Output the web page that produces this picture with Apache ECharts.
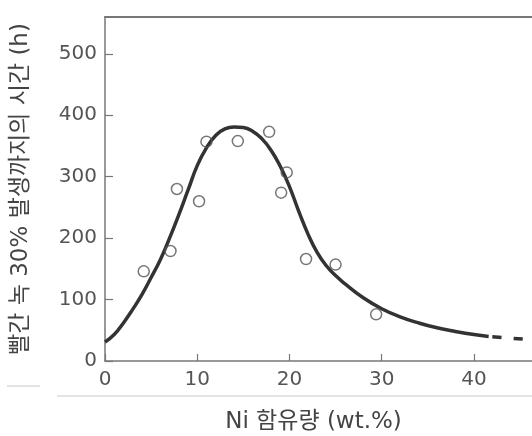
<!DOCTYPE html>
<html><head><meta charset="utf-8">
<script src="https://cdn.jsdelivr.net/npm/echarts/dist/echarts.min.js"></script>
<style>html,body{margin:0;padding:0;background:#fff}#c{width:532px;height:436px}</style>
</head><body><div id="c"></div>
<script>
// Observed points (hollow circles)
const obsX = [4.2, 7.1, 7.8, 10.2, 11.0, 14.4, 17.8, 19.7, 19.1, 21.8, 25.0, 29.4];
const obsY = [146, 179, 280, 260, 357, 358, 373, 307, 274, 166, 157, 76];
// Fitted curve (solid part)
const fitX = [0, 1, 2, 3, 4, 5, 6, 7, 8, 9, 10, 11, 12, 13, 14, 15, 16, 17, 18, 19, 20, 21, 22, 23, 24, 25, 26, 28, 30, 32, 34, 36, 38, 40, 41.6];
const fitY = [31, 43, 62, 84, 108, 136, 165, 200, 238, 278, 318, 347, 367, 378, 381, 380, 374, 362, 343, 317, 284, 244, 207, 177, 155, 139, 126, 103, 85, 72, 62, 54, 48, 43, 40];
// Extrapolated (dashed) part
const extX = [41.6, 44, 46.3];
const extY = [40, 37, 35];
// Axis ticks
const xTicks = [0, 10, 20, 30, 40];
const yTicks = [0, 100, 200, 300, 400, 500];
const xTitle = 'Ni 함유량 (wt.%)';
const yTitle = '빨간 녹 30% 발생까지의 시간 (h)';

const FONT = '"DejaVu Sans", "Noto Sans CJK KR", sans-serif';
const axisCol = '#777';
const chart = echarts.init(document.getElementById('c'), null, {renderer: 'canvas'});
chart.setOption({
  animation: false,
  backgroundColor: '#fff',
  grid: {left: 105, right: 0, top: 17, bottom: 75, outerBoundsMode: 'none', containLabel: false},
  xAxis: [{
    type: 'value', min: xTicks[0], max: 46.3, interval: xTicks[1] - xTicks[0],
    axisLine: {show: true, lineStyle: {color: axisCol, width: 1.5}},
    axisTick: {show: true, inside: true, length: 7, lineStyle: {color: axisCol, width: 1.2}},
    axisLabel: {fontSize: 20, color: '#555', fontFamily: FONT, margin: 9, showMaxLabel: false,
      formatter: v => xTicks.includes(v) ? String(v) : ''},
    splitLine: {show: false},
    name: xTitle, nameLocation: 'middle', nameGap: 50,
    nameTextStyle: {fontSize: 23, color: '#444', fontFamily: FONT, padding: [0, 10, 0, 0]}
  }, {
    type: 'value', position: 'top', min: xTicks[0], max: 46.3,
    axisLine: {show: true, lineStyle: {color: axisCol, width: 1.8}},
    axisTick: {show: false}, axisLabel: {show: false}, splitLine: {show: false}
  }],
  yAxis: {
    type: 'value', min: yTicks[0], max: 560, interval: yTicks[1] - yTicks[0],
    axisLine: {show: true, lineStyle: {color: axisCol, width: 1.5}},
    axisTick: {show: true, inside: true, length: 8, lineStyle: {color: axisCol, width: 1.2}},
    axisLabel: {fontSize: 20, color: '#555', fontFamily: FONT, margin: 8, showMaxLabel: false,
      formatter: v => yTicks.includes(v) ? String(v) : ''},
    splitLine: {show: false},
    name: yTitle, nameLocation: 'middle', nameGap: 72,
    nameTextStyle: {fontSize: 23, color: '#444', fontFamily: FONT}
  },
  graphic: [
    {type: 'line', shape: {x1: 57, y1: 396, x2: 532, y2: 396}, style: {stroke: '#c8c8c8', lineWidth: 1}},
    {type: 'line', shape: {x1: 7, y1: 386, x2: 40, y2: 386}, style: {stroke: '#c8c8c8', lineWidth: 1}}
  ],
  series: [
    {type: 'line', data: fitX.map((x, i) => [x, fitY[i]]), smooth: true, symbol: 'none',
     lineStyle: {color: '#333', width: 3.5}, z: 2},
    {type: 'line', data: extX.map((x, i) => [x, extY[i]]), smooth: true, symbol: 'none',
     lineStyle: {color: '#333', width: 3.5, type: [9, 12], dashOffset: -4}, z: 2},
    {type: 'scatter', data: obsX.map((x, i) => [x, obsY[i]]), symbol: 'circle', symbolSize: 11,
     itemStyle: {color: 'rgba(255,255,255,0)', borderColor: '#555', borderWidth: 1.5}, z: 3}
  ]
});
</script></body></html>
